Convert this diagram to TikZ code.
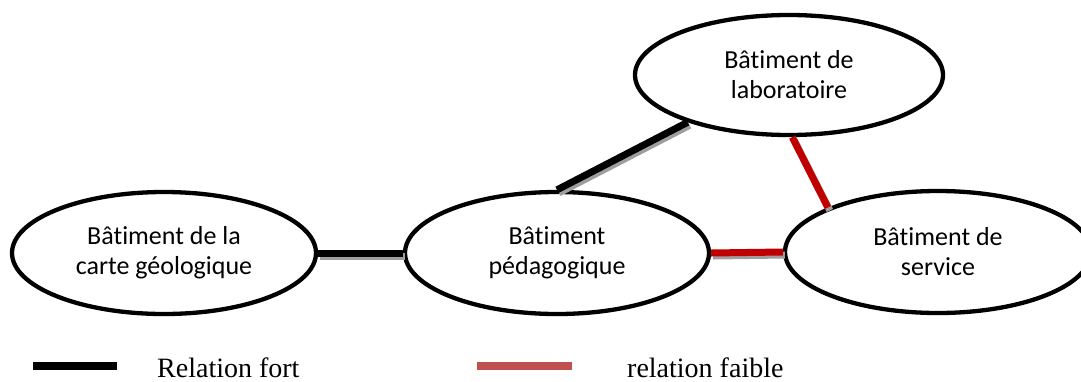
\documentclass[tikz,border=0pt]{standalone}
\usepackage{fontspec}
\setmainfont{Liberation Serif}
\newfontfamily\calib[Ligatures=NoCommon]{Carlito}
\usetikzlibrary{shapes.geometric}
\definecolor{weak}{HTML}{C00000}
\definecolor{weaklegend}{HTML}{C0504D}
\tikzset{
  bld/.style={ellipse, draw=black, line width=4.3pt, inner sep=0pt, align=center,
    font=\calib\fontsize{26}{30}\selectfont},
  strong/.style={line width=7pt, black},
  faible/.style={line width=7pt, weak},
  shadowline/.style={line width=7pt, black!38, transform canvas={shift={(2pt,-3pt)}}},
  legtext/.style={anchor=base west, inner sep=0pt, font=\fontsize{28}{30}\selectfont},
}
\begin{document}
\begin{tikzpicture}[x=1pt,y=-1pt]
\useasboundingbox (0,0) rectangle (1081,381);
\node[bld, minimum width=304pt, minimum height=122pt] (geo) at (164,253) {Bâtiment de la\\carte géologique};
\node[bld, minimum width=304pt, minimum height=122pt] (ped) at (557,253) {Bâtiment\\pédagogique};
\node[bld, minimum width=306pt, minimum height=122pt] (srv) at (938,252) {Bâtiment de\\service};
\node[bld, minimum width=308pt, minimum height=120pt] (lab) at (789,75) {Bâtiment de\\laboratoire};
% strong links
\draw[shadowline] (geo.east) -- (ped.west);
\draw[strong] (geo.east) -- (ped.west);
\draw[shadowline] (ped.north) -- (lab.205);
\draw[strong] (ped.north) -- (lab.205);
% weak links
\draw[shadowline] (lab.273) -- (srv.158);
\draw[faible] (lab.273) -- (srv.158);
\draw[shadowline] (ped.east) -- (srv.west);
\draw[faible] (ped.east) -- (srv.west);
% legend
\coordinate (l1a) at (33,366); \coordinate (l1b) at (117,366);
\draw[line width=8pt, black] (l1a) -- (l1b);
\node[legtext] (t1) at (157,377) {Relation fort};
\coordinate (l2a) at (477,366); \coordinate (l2b) at (572,366);
\draw[line width=8pt, weaklegend] (l2a) -- (l2b);
\node[legtext] (t2) at (627,377) {relation faible};
\end{tikzpicture}
\end{document}
